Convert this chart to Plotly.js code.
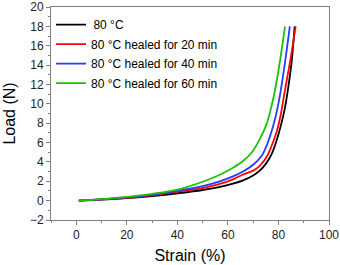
<!DOCTYPE html>
<html>
<head>
<meta charset="utf-8">
<script src="https://cdn.plot.ly/plotly-3.0.1.min.js"></script>
<style>html,body{margin:0;padding:0;background:#fff;}#chart{width:340px;height:265px;}</style>
</head>
<body>
<div id="chart"></div>
<script>
const seriesNames = ["\u200980 \u00B0C", "80 \u00B0C healed for 20 min", "80 \u00B0C healed for 40 min", "80 \u00B0C healed for 60 min"];
const seriesColors = ["#000000", "#ff0000", "#1f3fff", "#1ec000"];

const strainBlack = [1, 10, 20, 30, 41, 50, 56.8, 62, 66, 70, 72.6, 75, 77.3, 79, 81, 82.5, 83.6, 85.2, 86.4];
const loadBlack   = [0, 0.1, 0.27, 0.48, 0.79, 1.1, 1.41, 1.75, 2.1, 2.6, 3.1, 3.8, 4.8, 6.0, 7.8, 9.5, 11.2, 14.3, 18];

const strainRed = [1, 10, 20, 30, 41, 50, 56.8, 62, 66, 70, 72.6, 75.3, 77.5, 79.5, 81, 82.3, 83.6, 84.9, 86.8];
const loadRed   = [0, 0.12, 0.3, 0.55, 0.96, 1.3, 1.72, 2.2, 2.7, 3.1, 3.6, 4.5, 5.8, 7.3, 9.0, 11.0, 12.9, 14.8, 18];

const strainBlue = [1, 10, 20, 30, 41, 50, 56.8, 62, 66, 70, 73.3, 75.5, 77.9, 79.5, 80.8, 82.6, 84.5];
const loadBlue   = [0, 0.13, 0.33, 0.6, 1.06, 1.5, 1.99, 2.5, 3.0, 3.7, 4.6, 5.8, 7.7, 9.4, 11.2, 14.3, 18];

const strainGreen = [1, 10, 20, 30, 41, 50, 56.8, 62, 66, 69.5, 72.5, 75.3, 77, 78.4, 79.6, 80.6, 82.6];
const loadGreen   = [0, 0.15, 0.38, 0.7, 1.2, 1.95, 2.68, 3.4, 4.1, 5.0, 6.3, 7.9, 9.5, 11.1, 12.8, 14.4, 18];

const xs = [strainBlack, strainRed, strainBlue, strainGreen];
const ys = [loadBlack, loadRed, loadBlue, loadGreen];

const traces = xs.map((x, i) => ({
  x: x, y: ys[i], name: seriesNames[i], legendgroup: 'g' + i, type: 'scatter', mode: 'lines',
  line: {color: seriesColors[i], width: 1.8, shape: 'spline', smoothing: 1}
}));

const axisCommon = {
  showline: true, mirror: true, linecolor: '#808080', linewidth: 1,
  ticks: 'outside', ticklen: 4, tickcolor: '#808080', showgrid: false, zeroline: false,
  tickfont: {family: 'Liberation Sans, Arial, sans-serif', size: 12, color: '#222'}
};

const layout = {
  width: 340, height: 265,
  margin: {l: 51, r: 11, t: 7, b: 45},
  paper_bgcolor: '#fff', plot_bgcolor: '#fff',
  showlegend: true,
  legend: {x: 0.0, y: 0.985, xanchor: 'left', yanchor: 'top', bgcolor: 'rgba(0,0,0,0)',
    font: {family: 'Liberation Sans, Arial, sans-serif', size: 12, color: '#000'},
    tracegroupgap: 0.5, itemwidth: 30},
  xaxis: Object.assign({}, axisCommon, {
    range: [-10, 100], dtick: 20, tick0: 0,
    minor: {ticks: 'outside', ticklen: 2, dtick: 10, tick0: 0, tickcolor: '#808080'},
    title: {text: 'Strain (%)', font: {family: 'Liberation Sans, Arial, sans-serif', size: 16, color: '#000'}, standoff: 8}
  }),
  yaxis: Object.assign({}, axisCommon, {
    range: [-2, 20], dtick: 2, tick0: 0,
    minor: {ticks: 'outside', ticklen: 2, dtick: 1, tick0: 0, tickcolor: '#808080'},
    title: {text: 'Load (N)', font: {family: 'Liberation Sans, Arial, sans-serif', size: 16, color: '#000'}, standoff: 10}
  })
};

Plotly.newPlot('chart', traces, layout, {displayModeBar: false, staticPlot: true});
</script>
</body>
</html>
